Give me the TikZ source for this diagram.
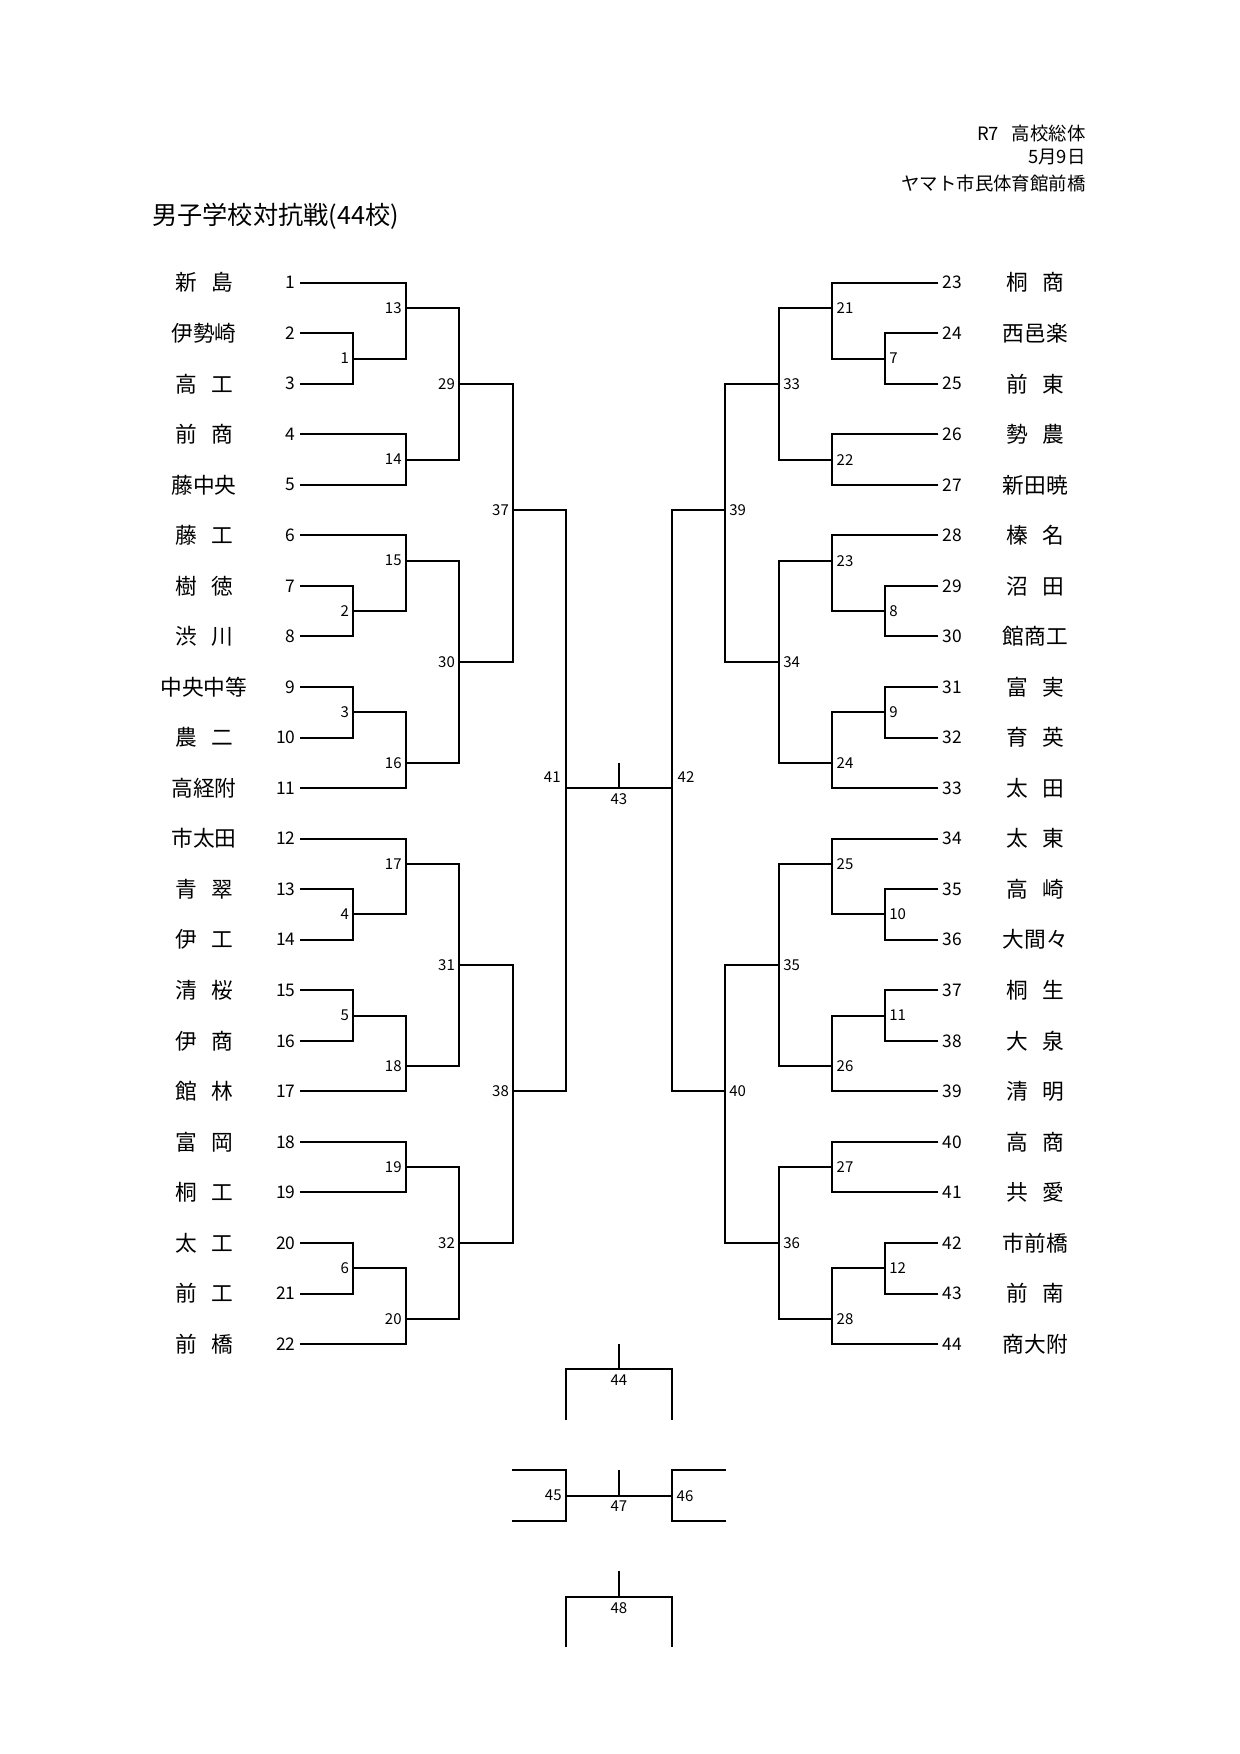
\documentclass[tikz,border=0pt]{standalone}
\usepackage{fontspec}
\setmainfont{Noto Sans CJK JP}
\usepackage{tikz}
\newcommand\jsp{\hspace{0.66em}}
\tikzset{
  head/.style={anchor=east,inner sep=0pt,font=\fontsize{9.2}{11}\selectfont},
  team/.style={font=\fontsize{10.85}{13}\selectfont,inner sep=0pt},
  seed/.style={font=\fontsize{8.7}{10}\selectfont,inner sep=2pt},
  gamel/.style={font=\fontsize{7.5}{9}\selectfont,inner sep=2pt,anchor=east},
  gamer/.style={font=\fontsize{7.5}{9}\selectfont,inner sep=2pt,anchor=west},
  bracket/.style={line width=1pt}
}
\begin{document}
\begin{tikzpicture}[x=0.5pt,y=-25.27pt]
\useasboundingbox (0,-4.594) rectangle (1240,30.112);
\node[head] (head1) at (1086,-1.956) {R7\hspace{0.7em}高校総体};
\node[head] (head2) at (1086,-1.481) {5月9日};
\node[head] (head3) at (1086,-0.967) {ヤマト市民体育館前橋};
\node[anchor=west,inner sep=0pt,font=\fontsize{12.6}{14}\selectfont] (title) at (152,-0.306) {男子学校対抗戦(44校)};
\foreach \s [count=\i] in {新\jsp 島,伊勢崎,高\jsp 工,前\jsp 商,藤中央,藤\jsp 工,樹\jsp 徳,渋\jsp 川,中央中等,農\jsp 二,高経附,
  市太田,青\jsp 翠,伊\jsp 工,清\jsp 桜,伊\jsp 商,館\jsp 林,富\jsp 岡,桐\jsp 工,太\jsp 工,前\jsp 工,前\jsp 橋}{
  \coordinate (t\i) at (300,\i);
  \node[seed,anchor=east] (n\i) at (t\i) {\i};
  \node[team] (s\i) at (204,\i) {\s};
}
\foreach \s [count=\i from 23] in {桐\jsp 商,西邑楽,前\jsp 東,勢\jsp 農,新田暁,榛\jsp 名,沼\jsp 田,館商工,富\jsp 実,育\jsp 英,太\jsp 田,
  太\jsp 東,高\jsp 崎,大間々,桐\jsp 生,大\jsp 泉,清\jsp 明,高\jsp 商,共\jsp 愛,市前橋,前\jsp 南,商大附}{
  \pgfmathtruncatemacro\r{\i-22}
  \coordinate (t\i) at (938.3,\r);
  \node[seed,anchor=west] (n\i) at (t\i) {\i};
  \node[team] (s\i) at (1035.5,\r) {\s};
}
\coordinate (m1) at (353.3,2.5);  \coordinate (m2) at (353.3,7.5);
\coordinate (m3) at (353.3,9.5);  \coordinate (m4) at (353.3,13.5);
\coordinate (m5) at (353.3,15.5); \coordinate (m6) at (353.3,20.5);
\coordinate (m13) at (406,1.5);   \coordinate (m14) at (406,4.5);
\coordinate (m15) at (406,6.5);   \coordinate (m16) at (406,10.5);
\coordinate (m17) at (406,12.5);  \coordinate (m18) at (406,16.5);
\coordinate (m19) at (406,18.5);  \coordinate (m20) at (406,21.5);
\coordinate (m29) at (459.3,3);   \coordinate (m30) at (459.3,8.5);
\coordinate (m31) at (459.3,14.5); \coordinate (m32) at (459.3,20);
\coordinate (m37) at (513.3,5.5); \coordinate (m38) at (513.3,17);
\coordinate (m41) at (566,11);
\coordinate (m7) at (885,2.5);    \coordinate (m8) at (885,7.5);
\coordinate (m9) at (885,9.5);    \coordinate (m10) at (885,13.5);
\coordinate (m11) at (885,15.5);  \coordinate (m12) at (885,20.5);
\coordinate (m21) at (832.3,1.5); \coordinate (m22) at (832.3,4.5);
\coordinate (m23) at (832.3,6.5); \coordinate (m24) at (832.3,10.5);
\coordinate (m25) at (832.3,12.5); \coordinate (m26) at (832.3,16.5);
\coordinate (m27) at (832.3,18.5); \coordinate (m28) at (832.3,21.5);
\coordinate (m33) at (779,3);     \coordinate (m34) at (779,8.5);
\coordinate (m35) at (779,14.5);  \coordinate (m36) at (779,20);
\coordinate (m39) at (725,5.5);   \coordinate (m40) at (725,17);
\coordinate (m42) at (672.3,11);
\coordinate (m43) at (619,11);    \coordinate (k43) at (619,10.5);
\foreach \a/\b/\m in {t2/t3/m1,t7/t8/m2,t9/t10/m3,t13/t14/m4,t15/t16/m5,t20/t21/m6,
  t1/m1/m13,t4/t5/m14,t6/m2/m15,m3/t11/m16,t12/m4/m17,m5/t17/m18,t18/t19/m19,m6/t22/m20,
  m13/m14/m29,m15/m16/m30,m17/m18/m31,m19/m20/m32,m29/m30/m37,m31/m32/m38,m37/m38/m41,
  t24/t25/m7,t29/t30/m8,t31/t32/m9,t35/t36/m10,t37/t38/m11,t42/t43/m12,
  t23/m7/m21,t26/t27/m22,t28/m8/m23,m9/t33/m24,t34/m10/m25,m11/t39/m26,t40/t41/m27,m12/t44/m28,
  m21/m22/m33,m23/m24/m34,m25/m26/m35,m27/m28/m36,m33/m34/m39,m35/m36/m40,m39/m40/m42}
  \draw[bracket] (\a) -| (\m) (\b) -| (\m);
\draw[bracket] (m41) -- (m42) (k43) -- (m43);
\foreach \m in {1,2,3,4,5,6,13,14,15,16,17,18,19,20,29,30,31,32,37,38}
  \node[gamel] (g\m) at (m\m) {\m};
\foreach \m in {7,8,9,10,11,12,21,22,23,24,25,26,27,28,33,34,35,36,39,40}
  \node[gamer] (g\m) at (m\m) {\m};
\node[gamel,anchor=south east,inner sep=2.5pt] (g41) at (m41) {41};
\node[gamer,anchor=south west,inner sep=2.5pt] (g42) at (m42) {42};
\node[gamel,anchor=north,inner sep=2.5pt] (g43) at (m43) {43};
\coordinate (k44) at (619,22);    \coordinate (m44) at (619,22.5);
\coordinate (a44) at (566,23.5);  \coordinate (b44) at (672.3,23.5);
\draw[bracket] (a44) |- (m44) -| (b44) (k44) -- (m44);
\node[gamel,anchor=north,inner sep=2.5pt] (g44) at (m44) {44};
\coordinate (m45) at (566,25);    \coordinate (m46) at (672.3,25);
\coordinate (m47) at (619,25);    \coordinate (k47) at (619,24.5);
\coordinate (a45) at (512.3,24.5); \coordinate (b45) at (512.3,25.5);
\coordinate (a46) at (725.7,24.5); \coordinate (b46) at (725.7,25.5);
\draw[bracket] (a45) -| (m45) |- (b45) (a46) -| (m46) |- (b46);
\draw[bracket] (m45) -- (m46) (k47) -- (m47);
\node[gamel] (g45) at (m45) {45};
\node[gamer] (g46) at (m46) {46};
\node[gamel,anchor=north,inner sep=2.5pt] (g47) at (m47) {47};
\coordinate (k48) at (619,26.5);  \coordinate (m48) at (619,27);
\coordinate (a48) at (566,28);    \coordinate (b48) at (672.3,28);
\draw[bracket] (a48) |- (m48) -| (b48) (k48) -- (m48);
\node[gamel,anchor=north,inner sep=2.5pt] (g48) at (m48) {48};
\end{tikzpicture}
\end{document}
